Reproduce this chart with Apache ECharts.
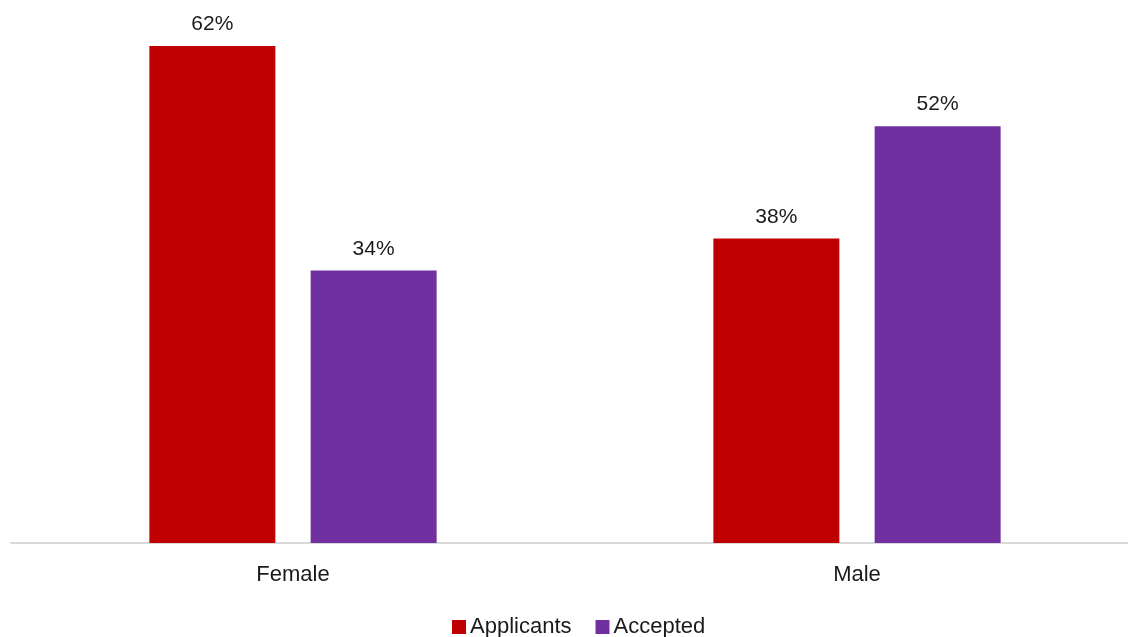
<!DOCTYPE html>
<html>
<head>
<meta charset="utf-8">
<script src="https://cdn.jsdelivr.net/npm/echarts@6/dist/echarts.min.js"></script>
<style>
  html, body { margin: 0; padding: 0; background: #fff; overflow: hidden; }
  /* wider than the window so the grid can run past the right edge */
  #chart { width: 1148px; height: 637px; }
</style>
</head>
<body>
<div id="chart"></div>
<script>
const categories = ["Female", "Male"];
const applicants = [62, 38];
const accepted = [34, 52];

const font = "'Liberation Sans', 'DejaVu Sans', sans-serif";
const chart = echarts.init(document.getElementById("chart"));
const labelStyle = {
  show: true,
  position: "top",
  distance: 11,
  formatter: "{c}%",
  color: "#1a1a1a",
  fontSize: 21,
  fontFamily: font,
};
chart.setOption({
  animation: false,
  color: ["#C00000", "#7030A0"],
  grid: { left: 11, width: 1128, top: 22, bottom: 94 },
  legend: {
    top: 611,
    left: 447,
    itemWidth: 14,
    itemHeight: 14,
    itemGap: 24,
    icon: "rect",
    textStyle: { color: "#1a1a1a", fontSize: 22, fontFamily: font, padding: [0, 0, 0, -1] },
    data: ["Applicants", "Accepted"],
  },
  xAxis: {
    type: "category",
    data: categories,
    axisLine: { lineStyle: { color: "#d9d9d9", width: 2 } },
    axisTick: { show: false },
    axisLabel: { color: "#1a1a1a", fontSize: 22, fontFamily: font, margin: 21 },
  },
  yAxis: {
    type: "value",
    min: 0,
    max: 65,
    show: false,
    splitLine: { show: false },
  },
  series: [
    { name: "Applicants", type: "bar", data: applicants, barWidth: 126, barGap: "28%", label: labelStyle },
    { name: "Accepted", type: "bar", data: accepted, barWidth: 126, label: labelStyle },
  ],
});
</script>
</body>
</html>
